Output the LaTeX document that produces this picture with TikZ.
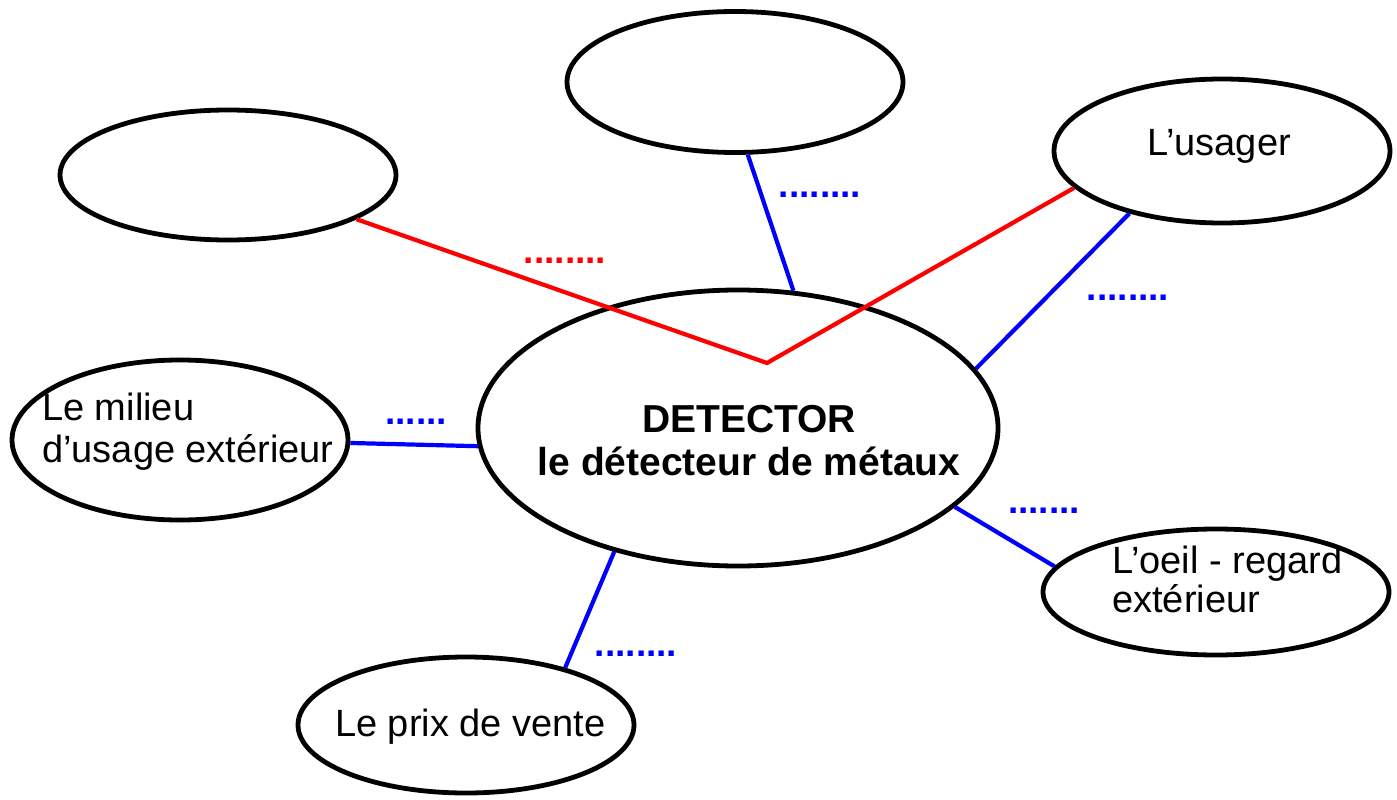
\documentclass[tikz,border=0pt]{standalone}
\usepackage{fontspec}
\setmainfont{Liberation Sans}
\usetikzlibrary{shapes.geometric}
\begin{document}
\begin{tikzpicture}[x=1pt,y=-1pt,
  bub/.style={draw=black, line width=4.8pt, ellipse, inner sep=0pt},
  lab/.style={font=\fontsize{38}{44}\selectfont, inner sep=0pt},
  boldlab/.style={font=\fontsize{39}{45}\selectfont\bfseries, inner sep=0pt},
  dotsr/.style={font=\fontsize{37}{37}\selectfont\bfseries, text=red, inner sep=0pt},
  dotsb/.style={font=\fontsize{37}{37}\selectfont\bfseries, text=blue, inner sep=0pt},
  redline/.style={draw=red, line width=4.2pt},
  blueline/.style={draw=blue, line width=4.2pt}]
\useasboundingbox (0,0) rectangle (1397,800);
% ellipses
\node[bub, minimum width=336pt, minimum height=130pt] (tl) at (228,175) {};
\node[bub, minimum width=336pt, minimum height=141pt] (top) at (735,82) {};
\node[bub, minimum width=336pt, minimum height=144pt] (us) at (1222,151) {};
\node[bub, minimum width=336pt, minimum height=160pt] (mil) at (180,440) {};
\node[bub, minimum width=520pt, minimum height=276pt] (det) at (738,428) {};
\node[bub, minimum width=346pt, minimum height=126pt] (oeil) at (1216,592) {};
\node[bub, minimum width=336pt, minimum height=136pt] (prix) at (466,725) {};
% texts
\node[lab, anchor=base west] (usT) at (1147,155) {L’usager};
\node[lab, anchor=base west] (milT1) at (42,420) {Le milieu};
\node[lab, anchor=base west] (milT2) at (42,462) {d’usage extérieur};
\node[lab, anchor=base west] (oeilT1) at (1112,573) {L’oeil - regard};
\node[lab, anchor=base west] (oeilT2) at (1112,612) {extérieur};
\node[lab, anchor=base west] (prixT) at (335,736) {Le prix de vente};
\node[boldlab, anchor=base] (detT1) at (749,432) {DETECTOR};
\node[boldlab, anchor=base] (detT2) at (749,475) {le détecteur de métaux};
% connectors
\coordinate (v) at (767,363);
\draw[redline] (tl.-19.5) -- (v) -- (us.-166);
\draw[blueline] (top.-80) -- (det.68);
\draw[blueline] (us.-146.5) -- (det.14.3);
\draw[blueline] (mil.-1) -- (det.184.4);
\draw[blueline] (det.-20) -- (oeil.171);
\draw[blueline] (det.-135.5) -- (prix.30);
% dotted labels
\node[dotsr] (d1) at (565,261) {........};
\node[dotsb] (d2) at (820,195) {........};
\node[dotsb] (d3) at (1128,298) {........};
\node[dotsb] (d4) at (416,422) {......};
\node[dotsb] (d5) at (1044,511) {.......};
\node[dotsb] (d6) at (636,654) {........};
\end{tikzpicture}
\end{document}
